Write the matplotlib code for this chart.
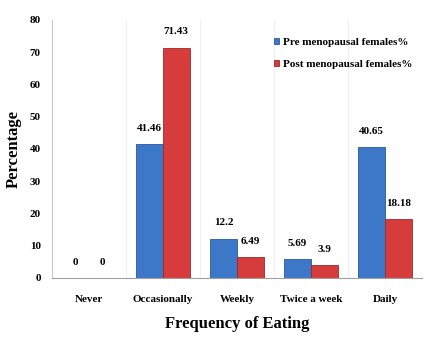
import numpy as np
import matplotlib.pyplot as plt

# --- Data ---
categories = ['Never', 'Occasionally', 'Weekly', 'Twice a week', 'Daily']
pre = [0, 41.46, 12.2, 5.69, 40.65]
post = [0, 71.43, 6.49, 3.9, 18.18]
pre_labels = ['0', '41.46', '12.2', '5.69', '40.65']
post_labels = ['0', '71.43', '6.49', '3.9', '18.18']

plt.rcParams['font.family'] = ['Liberation Serif', 'DejaVu Serif']
plt.rcParams['font.weight'] = 'bold'

fig = plt.figure(figsize=(4.36, 3.38), dpi=100)
ax = fig.add_axes([0.119, 0.178, 0.849, 0.763])

x = np.arange(len(categories))
w = 0.36
b1 = ax.bar(x - w / 2, pre, w, color='#3d78c8', edgecolor='#2a5a9a', linewidth=0.6,
            label='Pre menopausal females%')
b2 = ax.bar(x + w / 2, post, w, color='#d63c3c', edgecolor='#9a2a2a', linewidth=0.6,
            label='Post menopausal females%')

for rect, lab in zip(b1, pre_labels):
    ax.text(rect.get_x() + rect.get_width() / 2, rect.get_height() + 3.5, lab,
            ha='center', va='bottom', fontsize=8, fontweight='bold')
for rect, lab in zip(b2, post_labels):
    ax.text(rect.get_x() + rect.get_width() / 2, rect.get_height() + 3.5, lab,
            ha='center', va='bottom', fontsize=8, fontweight='bold')

ax.set_xlim(-0.5, 4.5)
ax.set_ylim(0, 80)
ax.set_yticks(range(0, 81, 10))
ax.set_xticks(x)
ax.set_xticklabels(categories, fontsize=8, fontweight='bold')
ax.tick_params(axis='y', labelsize=8, length=0, pad=8)
ax.tick_params(axis='x', length=0, pad=12)
for lbl in ax.get_yticklabels():
    lbl.set_fontweight('bold')

# faint vertical separators
for xv in np.arange(0.5, 4.5, 1):
    ax.axvline(xv, color='#f0f0f0', linewidth=0.8, zorder=0)

ax.spines['top'].set_visible(False)
ax.spines['right'].set_visible(False)
ax.spines['left'].set_color('#c8c8c8')
ax.spines['bottom'].set_color('#a0a0a0')

ax.set_xlabel('Frequency of Eating', fontsize=12, fontweight='bold', labelpad=9)
ax.set_ylabel('Percentage', fontsize=12, fontweight='bold', labelpad=6)

leg = ax.legend(loc='upper right', bbox_to_anchor=(1.0, 0.97), frameon=False,
                fontsize=8, handlelength=0.5, handleheight=0.5, handletextpad=0.3,
                labelspacing=1.2)

fig.savefig('out.png', dpi=100)
